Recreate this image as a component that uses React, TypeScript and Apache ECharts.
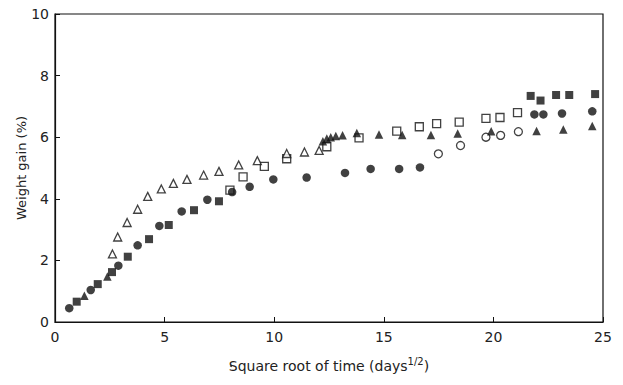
import React, { useEffect, useRef } from "react";
import * as echarts from "echarts";

const filledCircles: [number, number][] = [
  [0.65, 0.45], [1.63, 1.04], [2.89, 1.83], [3.77, 2.49], [4.76, 3.12], [5.78, 3.59],
  [6.95, 3.97], [8.08, 4.22], [8.88, 4.39], [9.96, 4.63], [11.48, 4.69], [13.23, 4.84],
  [14.4, 4.97], [15.7, 4.97], [16.65, 5.02], [21.87, 6.74], [22.28, 6.74], [23.13, 6.77],
  [24.51, 6.84],
];
const filledSquares: [number, number][] = [
  [0.99, 0.66], [1.95, 1.23], [2.6, 1.62], [3.32, 2.12], [4.29, 2.69], [5.19, 3.15],
  [6.34, 3.63], [7.48, 3.92], [21.7, 7.34], [22.15, 7.19], [22.86, 7.37], [23.46, 7.37],
  [24.64, 7.4],
];
const filledTriangles: [number, number][] = [
  [1.34, 0.85], [2.39, 1.48], [12.22, 5.87], [12.4, 5.96], [12.58, 6.0], [12.81, 6.04],
  [13.12, 6.06], [13.77, 6.14], [14.78, 6.09], [15.84, 6.07], [17.15, 6.07], [18.37, 6.12],
  [19.9, 6.19], [21.97, 6.2], [23.19, 6.25], [24.51, 6.36],
];
const openTriangles: [number, number][] = [
  [2.62, 2.21], [2.86, 2.76], [3.29, 3.23], [3.77, 3.66], [4.23, 4.08], [4.85, 4.32],
  [5.4, 4.5], [6.02, 4.63], [6.78, 4.77], [7.48, 4.89], [8.38, 5.1], [9.23, 5.24],
  [10.57, 5.47], [11.38, 5.52], [12.05, 5.57],
];
const openSquares: [number, number][] = [
  [7.98, 4.28], [8.58, 4.71], [9.55, 5.05], [10.57, 5.3], [12.4, 5.69], [13.87, 5.98],
  [15.59, 6.2], [16.62, 6.34], [17.41, 6.44], [18.44, 6.49], [19.66, 6.61], [20.3, 6.64],
  [21.1, 6.8],
];
const openCircles: [number, number][] = [
  [17.49, 5.46], [18.5, 5.73], [19.66, 6.0], [20.33, 6.06], [21.14, 6.18],
];

const xTicks = { min: 0, max: 25, interval: 5 };
const yTicks = { min: 0, max: 10, interval: 2 };

export default function App() {
  const ref = useRef<HTMLDivElement>(null);
  useEffect(() => {
    if (!ref.current) return;
    const chart = echarts.init(ref.current, null, { renderer: "svg" });
    const font = "'DejaVu Sans', sans-serif";
    const filled = { color: "#111" };
    const open = { color: "#fff", borderColor: "#111", borderWidth: 1.3 };
    const mk = (name: string, data: [number, number][], symbol: string, size: number, style: any) => ({
      name,
      type: "scatter",
      data,
      symbol,
      symbolSize: size,
      itemStyle: style,
      z: style.color === "#fff" ? 2 : 3,
    });
    chart.setOption({
      animation: false,
      backgroundColor: "#fff",
      grid: {
        left: 55,
        top: 14,
        right: 20,
        bottom: 63,
        show: true,
        borderColor: "#111",
        borderWidth: 1.2,
        backgroundColor: "transparent",
      },
      xAxis: {
        type: "value",
        ...xTicks,
        name: "Square root of time (days{sup|1/2})",
        nameLocation: "middle",
        nameGap: 34,
        nameTextStyle: {
          fontFamily: font,
          fontSize: 14,
          color: "#222",
          rich: { sup: { fontSize: 10, verticalAlign: "top", padding: [0, 0, 10, 0], fontFamily: font, color: "#222" } },
        },
        axisLine: { lineStyle: { color: "#111", width: 1.2 } },
        axisTick: { inside: true, length: 5, lineStyle: { color: "#111" } },
        axisLabel: { fontFamily: font, fontSize: 14, color: "#222", margin: 8 },
        splitLine: { show: false },
      },
      yAxis: {
        type: "value",
        ...yTicks,
        name: "Weight gain (%)",
        nameLocation: "middle",
        nameGap: 27,
        nameMoveOverlap: false,
        nameTextStyle: { fontFamily: font, fontSize: 13, color: "#222" },
        axisLine: { show: true, lineStyle: { color: "#111", width: 1.2 } },
        axisTick: { show: true, inside: true, length: 5, lineStyle: { color: "#111" } },
        axisLabel: { fontFamily: font, fontSize: 14, color: "#222", margin: 6 },
        splitLine: { show: false },
      },
      graphic: [{ type: "circle", shape: { cx: 231, cy: 366, r: 1 }, style: { fill: "#333" } }],
      series: [
        mk("open squares", openSquares, "rect", 8, open),
        mk("open triangles", openTriangles, "triangle", 8, open),
        mk("open circles", openCircles, "circle", 8, open),
        mk("filled circles", filledCircles, "circle", 8.5, filled),
        mk("filled squares", filledSquares, "rect", 8, filled),
        mk("filled triangles", filledTriangles, "triangle", 8.5, filled),
      ],
    });
    return () => chart.dispose();
  }, []);
  return (
    <div
      ref={ref}
      style={{ position: "fixed", left: 0, top: 0, width: 623, height: 385, background: "#fff" }}
    />
  );
}
